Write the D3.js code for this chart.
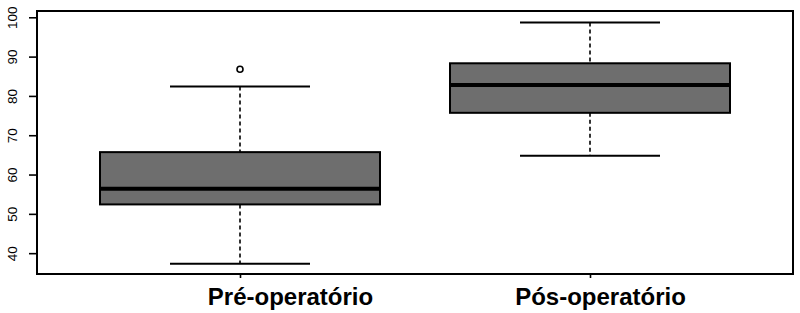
<!DOCTYPE html>
<html>
<head>
<meta charset="utf-8">
<script src="https://cdn.jsdelivr.net/npm/d3@7"></script>
<style>
    body { margin: 0; background: #fff; }
    svg { display: block; font-family: "Liberation Sans", Arial, sans-serif; }
</style>
</head>
<body>
<svg id="chart" width="800" height="313"></svg>
<script>
// data
const categories = ['Pré-operatório', 'Pós-operatório'];
const whiskerLow = [37.3, 64.8];
const q1 = [52.4, 75.7];
const median = [56.4, 82.8];
const q3 = [65.7, 88.3];
const whiskerHigh = [82.4, 98.7];
const outliers = [[86.8], []];
const yTicks = [40, 50, 60, 70, 80, 90, 100];
// hand placed labels in the original sit a bit right of the ticks
const labelShift = [50, 10];

const plot = { left: 37, right: 793, top: 11, bottom: 274 };

const svg = d3.select('#chart');

let x = d3.scalePoint()
    .domain(categories)
    .range([plot.left, plot.right])
    .padding(0.58);
let step = x.step();

let y = d3.scaleLinear()
    .domain([34.7, 101.6])
    .range([plot.bottom, plot.top]);

let boxes = categories.map(function (c, i) {
    return {
        name: c,
        lo: whiskerLow[i],
        q1: q1[i],
        med: median[i],
        q3: q3[i],
        hi: whiskerHigh[i],
        out: outliers[i]
    };
});

let g = svg.selectAll('g.box')
    .data(boxes)
    .join('g')
    .attr('class', 'box')
    .attr('transform', d => `translate(${x(d.name)},0)`);

let bw = step * 0.8;
let cw = step * 0.4;

// dashed whiskers
g.append('line')
    .attr('y1', d => y(d.hi)).attr('y2', d => y(d.q3))
    .attr('stroke', '#000').attr('stroke-width', 1.6)
    .attr('stroke-dasharray', '4,3');
g.append('line')
    .attr('y1', d => y(d.q1)).attr('y2', d => y(d.lo))
    .attr('stroke', '#000').attr('stroke-width', 1.6)
    .attr('stroke-dasharray', '4,3');

// caps
g.append('line')
    .attr('x1', -cw / 2).attr('x2', cw / 2)
    .attr('y1', d => y(d.hi)).attr('y2', d => y(d.hi))
    .attr('stroke', '#000').attr('stroke-width', 2);
g.append('line')
    .attr('x1', -cw / 2).attr('x2', cw / 2)
    .attr('y1', d => y(d.lo)).attr('y2', d => y(d.lo))
    .attr('stroke', '#000').attr('stroke-width', 2);

// box
g.append('rect')
    .attr('x', -bw / 2)
    .attr('width', bw)
    .attr('y', d => y(d.q3))
    .attr('height', d => y(d.q1) - y(d.q3))
    .attr('fill', '#6e6e6e')
    .attr('stroke', '#000')
    .attr('stroke-width', 2);

// median
g.append('line')
    .attr('x1', -bw / 2).attr('x2', bw / 2)
    .attr('y1', d => y(d.med)).attr('y2', d => y(d.med))
    .attr('stroke', '#000').attr('stroke-width', 4);

// outliers
g.selectAll('circle')
    .data(d => d.out)
    .join('circle')
    .attr('cy', v => y(v))
    .attr('r', 3)
    .attr('fill', 'none')
    .attr('stroke', '#000')
    .attr('stroke-width', 1.6);

// y axis
let yAxis = svg.append('g')
    .attr('transform', `translate(${plot.left},0)`)
    .call(d3.axisLeft(y).tickValues(yTicks).tickSize(8).tickPadding(0));
yAxis.select('.domain').remove();
yAxis.selectAll('line').attr('stroke', '#000').attr('stroke-width', 1.6);
yAxis.selectAll('text')
    .attr('x', 0).attr('y', 0).attr('dy', null)
    .attr('transform', 'translate(-20,0) rotate(-90)')
    .attr('text-anchor', 'middle')
    .attr('font-size', 13.5)
    .attr('font-family', '"Liberation Sans", Arial, sans-serif')
    .attr('fill', '#000');

// x axis
let xAxis = svg.append('g')
    .attr('transform', `translate(0,${plot.bottom})`)
    .call(d3.axisBottom(x).tickSize(4).tickPadding(0));
xAxis.select('.domain').remove();
xAxis.selectAll('line').attr('stroke', '#000').attr('stroke-width', 1.6);
xAxis.selectAll('text')
    .attr('y', 31).attr('dy', null)
    .attr('dx', (d, i) => labelShift[i])
    .attr('font-size', 24)
    .attr('font-weight', 'bold')
    .attr('font-family', '"Liberation Sans", Arial, sans-serif')
    .attr('fill', '#000');

// frame
svg.append('rect')
    .attr('x', plot.left).attr('y', plot.top)
    .attr('width', plot.right - plot.left)
    .attr('height', plot.bottom - plot.top)
    .attr('fill', 'none')
    .attr('stroke', '#000')
    .attr('stroke-width', 2);
</script>
</body>
</html>
